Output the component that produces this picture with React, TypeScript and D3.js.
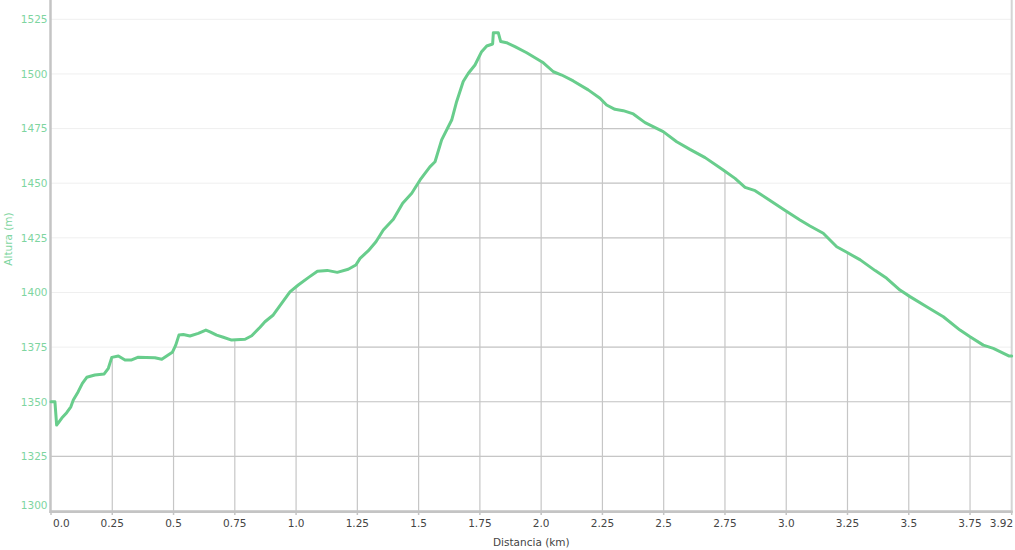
import React from "react";
import * as d3 from "d3";

const distKm = [
  0, 0.016, 0.023, 0.03, 0.044, 0.064, 0.081, 0.091, 0.111, 0.128, 0.146, 0.179, 0.217, 0.234, 0.248,
  0.275, 0.302, 0.329, 0.354, 0.424, 0.452, 0.472, 0.495, 0.509, 0.522, 0.54, 0.567, 0.601, 0.632,
  0.649, 0.676, 0.703, 0.737, 0.792, 0.819, 0.853, 0.873, 0.907, 0.941, 0.975, 1.009, 1.05, 1.087,
  1.127, 1.168, 1.213, 1.244, 1.261, 1.295, 1.326, 1.356, 1.397, 1.435, 1.472, 1.506, 1.546, 1.567,
  1.594, 1.635, 1.655, 1.682, 1.703, 1.73, 1.757, 1.778, 1.802, 1.805, 1.825, 1.835, 1.859, 1.893,
  1.941, 2.009, 2.05, 2.084, 2.131, 2.192, 2.24, 2.267, 2.301, 2.335, 2.376, 2.424, 2.498, 2.553,
  2.607, 2.669, 2.743, 2.791, 2.832, 2.873, 2.92, 2.988, 3.056, 3.097, 3.151, 3.206, 3.247, 3.302,
  3.363, 3.41, 3.464, 3.505, 3.573, 3.641, 3.709, 3.75, 3.804, 3.845, 3.91, 3.92,
];
const altitudeM = [
  1350, 1350, 1339.3, 1340.3, 1342.5, 1345.0, 1347.7, 1350.8, 1354.6, 1358.4, 1361.2, 1362.2, 1362.7,
  1365.3, 1370.3, 1370.9, 1369.1, 1369.1, 1370.3, 1370.1, 1369.4, 1370.9, 1372.6, 1375.9, 1380.5,
  1380.8, 1380.1, 1381.3, 1382.8, 1382.0, 1380.5, 1379.5, 1378.2, 1378.6, 1380.2, 1384.1, 1386.6,
  1389.7, 1395.0, 1400.3, 1403.4, 1406.8, 1409.7, 1410.1, 1409.2, 1410.6, 1412.6, 1415.6, 1419.1,
  1423.2, 1428.6, 1433.5, 1440.8, 1445.4, 1451.5, 1457.5, 1459.8, 1469.8, 1478.9, 1487.3, 1496.5,
  1500.3, 1504.1, 1510.2, 1512.8, 1513.7, 1518.9, 1518.9, 1514.8, 1514.3, 1512.5, 1509.7, 1505.1,
  1501.0, 1499.5, 1496.8, 1492.7, 1488.9, 1485.8, 1483.8, 1483.2, 1481.7, 1477.7, 1473.6, 1469.0,
  1465.5, 1461.7, 1456.0, 1452.2, 1448.1, 1446.6, 1443.1, 1438.1, 1433.2, 1430.4, 1427.1, 1420.9,
  1418.4, 1414.9, 1410.0, 1406.5, 1401.1, 1398.1, 1393.5, 1388.9, 1382.8, 1379.7, 1375.9, 1374.4,
  1370.9, 1370.9,
];
const xTicks = [0, 0.25, 0.5, 0.75, 1.0, 1.25, 1.5, 1.75, 2.0, 2.25, 2.5, 2.75, 3.0, 3.25, 3.5, 3.75, 3.92];
const xTickLabels = ["0.0", "0.25", "0.5", "0.75", "1.0", "1.25", "1.5", "1.75", "2.0", "2.25", "2.5", "2.75", "3.0", "3.25", "3.5", "3.75", "3.92"];
const yTicks = [1300, 1325, 1350, 1375, 1400, 1425, 1450, 1475, 1500, 1525];

const W = 1015;
const H = 550;
const LEFT = 51;
const RIGHT = 1011.7;
const BOTTOM = 511;
const TOP = 0;
const LINE_COLOR = "#68cd8c";
const YLABEL_COLOR = "#7ed5a0";
const FONT = "'DejaVu Sans', Verdana, sans-serif";

export default function App() {
  const x = d3.scaleLinear().domain([0, 3.92]).range([LEFT, RIGHT]);
  const y = d3.scaleLinear().domain([1300, 1525]).range([BOTTOM, 19.3]);
  const pts: [number, number][] = distKm.map((d, i) => [d, altitudeM[i]]);
  const line = d3.line<[number, number]>().x((p) => x(p[0])).y((p) => y(p[1]));
  const area = d3
    .area<[number, number]>()
    .x((p) => x(p[0]))
    .y0(BOTTOM)
    .y1((p) => y(p[1]));

  return (
    <svg width={W} height={H} style={{ position: "absolute", left: 0, top: 0 }} fontFamily={FONT}>
      <defs>
        <clipPath id="under">
          <path d={area(pts) || ""} />
        </clipPath>
      </defs>
      <rect width={W} height={H} fill="#fff" />
      {/* faint grid everywhere */}
      {yTicks.map((t) => (
        <line key={"fg" + t} x1={LEFT} x2={RIGHT} y1={y(t)} y2={y(t)} stroke="#efefef" strokeWidth={1} />
      ))}
      {/* darker grid under the curve */}
      <g clipPath="url(#under)">
        {yTicks.map((t) => (
          <line key={"dg" + t} x1={LEFT} x2={RIGHT} y1={y(t)} y2={y(t)} stroke="#c6c6c6" strokeWidth={1.2} />
        ))}
        {xTicks.slice(1, -1).map((t) => (
          <line key={"dv" + t} x1={x(t)} x2={x(t)} y1={TOP} y2={BOTTOM} stroke="#c6c6c6" strokeWidth={1.2} />
        ))}
      </g>
      {/* axes */}
      <line x1={LEFT - 0.5} x2={LEFT - 0.5} y1={TOP} y2={BOTTOM + 2} stroke="#c4c4c4" strokeWidth={2.5} />
      <line x1={RIGHT} x2={RIGHT} y1={TOP} y2={BOTTOM + 2} stroke="#d4d4d4" strokeWidth={2} />
      <line x1={LEFT - 1.5} x2={RIGHT + 1} y1={BOTTOM + 0.8} y2={BOTTOM + 0.8} stroke="#c4c4c4" strokeWidth={2.5} />
      {xTicks.map((t) => (
        <line key={"xt" + t} x1={x(t)} x2={x(t)} y1={BOTTOM} y2={BOTTOM + 4} stroke="#c4c4c4" strokeWidth={1.5} />
      ))}
      {/* curve */}
      <path d={line(pts) || ""} fill="none" stroke={LINE_COLOR} strokeWidth={3} strokeLinejoin="round" strokeLinecap="round" />
      {/* y labels */}
      {yTicks.map((t) => (
        <text
          key={"yl" + t}
          x={47.5}
          y={y(t) + (t === 1300 ? -6 : 0)}
          dy="0.36em"
          textAnchor="end"
          fontSize={10.5}
          fill={YLABEL_COLOR}
        >
          {t}
        </text>
      ))}
      {/* x labels */}
      {xTicks.map((t, i) => {
        const first = i === 0;
        const last = i === xTicks.length - 1;
        return (
          <text
            key={"xl" + t}
            x={first ? x(t) + 2 : last ? x(t) + 1.5 : x(t)}
            y={527}
            textAnchor={first ? "start" : last ? "end" : "middle"}
            fontSize={10.5}
            fill="#444"
          >
            {xTickLabels[i]}
          </text>
        );
      })}
      <text x={(LEFT + RIGHT) / 2} y={545.5} textAnchor="middle" fontSize={10.5} fill="#444">
        Distancia (km)
      </text>
      <text
        transform={`translate(12.3, ${239}) rotate(-90)`}
        textAnchor="middle"
        fontSize={10.5}
        fill={YLABEL_COLOR}
      >
        Altura (m)
      </text>
    </svg>
  );
}
